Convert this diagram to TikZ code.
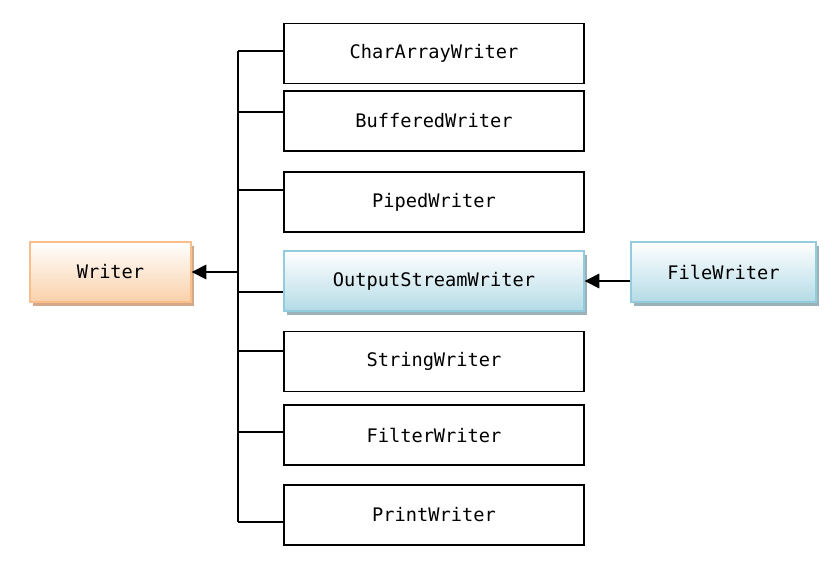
\documentclass[tikz,border=0pt]{standalone}
\usepackage{fontspec}
\setmonofont{DejaVu Sans Mono}
\usepackage{tikz}
\usetikzlibrary{arrows.meta,shadows}
\definecolor{peachline}{HTML}{F9BE8A}
\definecolor{peachfill}{HTML}{FAD0AA}
\definecolor{peachshadow}{HTML}{D4A888}
\definecolor{blueline}{HTML}{93CDDD}
\definecolor{bluefill}{HTML}{B4DBE6}
\definecolor{blueshadow}{HTML}{9CB2BA}
\tikzset{
  every node/.style={font=\ttfamily\fontsize{14}{16}\selectfont},
  plainbox/.style={draw=black,line width=0.9pt,minimum width=225pt,minimum height=45pt,inner sep=0pt},
  peachbox/.style={draw=peachline,line width=1pt,top color=white,bottom color=peachfill,
    minimum height=45pt,inner sep=0pt,
    general shadow={fill=peachshadow,shadow xshift=2.5pt,shadow yshift=-3pt}},
  bluebox/.style={draw=blueline,line width=1pt,top color=white,bottom color=bluefill,
    minimum height=45pt,inner sep=0pt,
    general shadow={fill=blueshadow,shadow xshift=2.5pt,shadow yshift=-3pt}},
  link/.style={line width=0.9pt},
  inherit/.style={line width=0.9pt,-{Triangle[length=11pt,width=11pt]}}
}
\begin{document}
\begin{tikzpicture}[x=0.75pt,y=-0.75pt]
\useasboundingbox (0,0) rectangle (832,561);
% base class and the right-hand subclass
\node[peachbox,minimum width=120.75pt] (Writer) at (110.5,272) {Writer};
\node[bluebox,minimum width=225pt] (OutputStreamWriter) at (434,281) {OutputStreamWriter};
\node[bluebox,minimum width=138.75pt] (FileWriter) at (723.5,272) {FileWriter};
% trunk
\coordinate (top) at (238,51);
\coordinate (bot) at (238,522);
\draw[link] (top) -- (bot);
\foreach \name/\y/\by in {CharArrayWriter/53.5/51,BufferedWriter/121/112,PipedWriter/202/190,
    StringWriter/361.5/351,FilterWriter/435/432,PrintWriter/515/522}{
  \node[plainbox] (\name) at (434,\y) {\name};
  \draw[link] (top |- 0,\by) -- (\name.west |- 0,\by);
}
\draw[link] (top |- 0,292) -- (OutputStreamWriter.west |- 0,292);
\draw[inherit] (top |- Writer.east) -- (Writer.east);
\draw[inherit] (FileWriter.west |- OutputStreamWriter.east) -- (OutputStreamWriter.east);
\end{tikzpicture}
\end{document}
